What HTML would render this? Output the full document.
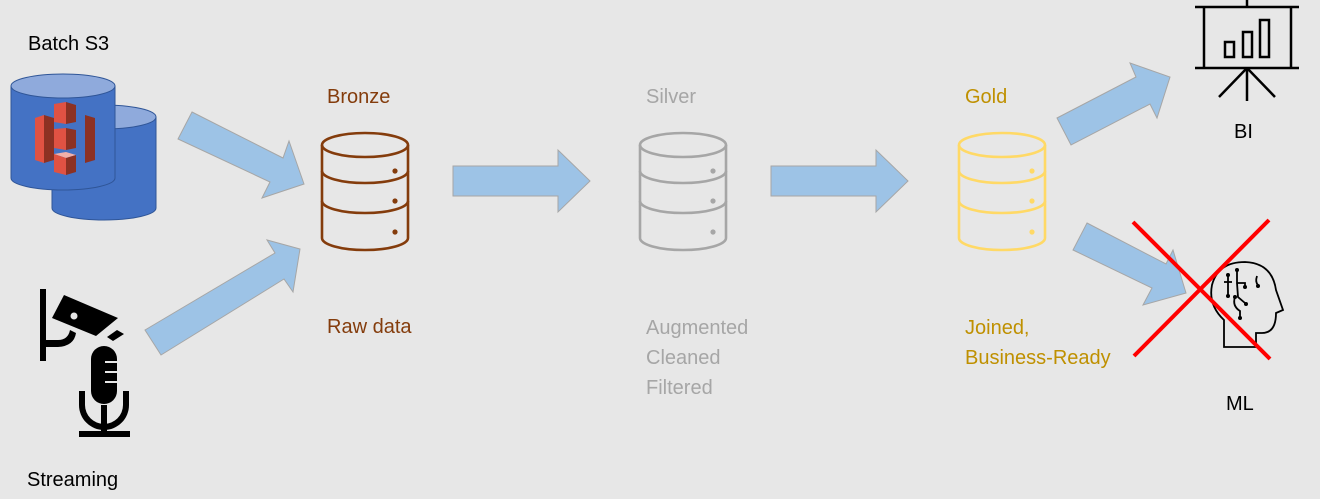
<!DOCTYPE html>
<html><head><style>
html,body{margin:0;padding:0;background:#e7e7e7;}
svg{display:block;font-family:"Liberation Sans",sans-serif;}
</style></head><body>
<svg width="1320" height="499" viewBox="0 0 1320 499" xmlns="http://www.w3.org/2000/svg">
<rect width="1320" height="499" fill="#e7e7e7"/>
<g font-size="20">
<text x="28" y="50" fill="#000">Batch S3</text>
<text x="27" y="486" fill="#000">Streaming</text>
<text x="327" y="103" fill="#843c0c">Bronze</text>
<text x="327" y="333" fill="#843c0c">Raw data</text>
<text x="646" y="103" fill="#a6a6a6">Silver</text>
<text x="646" y="334" fill="#a6a6a6">Augmented</text>
<text x="646" y="364" fill="#a6a6a6">Cleaned</text>
<text x="646" y="394" fill="#a6a6a6">Filtered</text>
<text x="965" y="103" fill="#bf9000">Gold</text>
<text x="965" y="334" fill="#bf9000">Joined,</text>
<text x="965" y="364" fill="#bf9000">Business-Ready</text>
<text x="1234" y="138" fill="#000">BI</text>
<text x="1226" y="410" fill="#000">ML</text>
</g>
<!-- S3 cylinders -->
<g stroke="#2f5597" stroke-width="1">
<path d="M52,117 V208 A52,12 0 0 0 156,208 V117 Z" fill="#4472c4"/>
<ellipse cx="104" cy="117" rx="52" ry="12" fill="#8faadc"/>
<path d="M11,86 V178 A52,12 0 0 0 115,178 V86 Z" fill="#4472c4"/>
<ellipse cx="63" cy="86" rx="52" ry="12" fill="#8faadc"/>
</g>
<g>
<polygon points="35,118 44,115 44,163 35,160" fill="#e05243"/>
<polygon points="44,115 54,118 54,160 44,163" fill="#8c3123"/>
<polygon points="95,118 85,115 85,163 95,160" fill="#8c3123"/>
<polygon points="54,104 66,102 66,124 54,122" fill="#e05243"/>
<polygon points="66,102 76,105 76,122 66,124" fill="#8c3123"/>
<polygon points="54,129 66,128 66,150 54,148" fill="#e05243"/>
<polygon points="66,128 76,130 76,148 66,150" fill="#8c3123"/>
<polygon points="54,154 66,152 76,155 66,158" fill="#f2b0a9"/>
<polygon points="54,154 66,158 66,175 54,172" fill="#e05243"/>
<polygon points="66,158 76,155 76,172 66,175" fill="#8c3123"/>
</g>
<!-- camera & mic -->
<g fill="#000">
<rect x="40" y="289" width="6" height="72"/>
<polygon points="64,295 118,318 96,336 52,318"/>
<polygon points="107,337 117,330 124,334 113,341"/>
<path d="M46,340 H58 Q68,340 70,330 L76,333 Q74,346 58,347 H46 Z"/>
<rect x="79" y="431" width="51" height="6"/>
<rect x="101" y="405" width="6" height="28"/>
<path d="M79,391 V405 A25,25 0 0 0 129,405 V391 H123 V405 A19,19 0 0 1 85,405 V391 Z"/>
<rect x="91" y="346" width="26" height="58" rx="13"/>
</g>
<circle cx="74" cy="316" r="3.5" fill="#e7e7e7"/>
<g stroke="#e7e7e7" stroke-width="2"><line x1="105" y1="362" x2="117" y2="362"/><line x1="105" y1="372" x2="117" y2="372"/><line x1="105" y1="382" x2="117" y2="382"/></g>
<!-- arrows -->
<g fill="#9dc3e6" stroke="#a6a6a6" stroke-width="1">
<polygon points="192,112 283,158 289,141 304,184 262,198 270,182 178,139"/>
<polygon points="145,330 275,253 267,240 300,249 293,292 284,279 161,355"/>
<polygon points="453,166 558,166 558,150 590,181 558,212 558,196 453,196"/>
<polygon points="771,166 876,166 876,150 908,181 876,212 876,196 771,196"/>
<polygon points="1057,118 1136,77 1130,63 1170,77 1157,118 1150,104 1071,145"/>
<polygon points="1087,223 1166,264 1173,250 1186,293 1143,305 1152,288 1073,250"/>
</g>
<!-- DB icons -->
<defs>
<g id="db" fill="none" stroke-width="2.6">
<ellipse cx="43" cy="25" rx="43" ry="12"/>
<path d="M0,25 V118 A43,12 0 0 0 86,118 V25"/>
<path d="M0,51 A43,12 0 0 0 86,51"/>
<path d="M0,81 A43,12 0 0 0 86,81"/>
</g>
</defs>
<g transform="translate(322,120)" stroke="#843c0c" fill="#843c0c"><use href="#db"/><circle cx="73" cy="51" r="2.6" stroke="none"/><circle cx="73" cy="81" r="2.6" stroke="none"/><circle cx="73" cy="112" r="2.6" stroke="none"/></g>
<g transform="translate(640,120)" stroke="#a6a6a6" fill="#a6a6a6"><use href="#db"/><circle cx="73" cy="51" r="2.6" stroke="none"/><circle cx="73" cy="81" r="2.6" stroke="none"/><circle cx="73" cy="112" r="2.6" stroke="none"/></g>
<g transform="translate(959,120)" stroke="#ffd966" fill="#ffd966"><use href="#db"/><circle cx="73" cy="51" r="2.6" stroke="none"/><circle cx="73" cy="81" r="2.6" stroke="none"/><circle cx="73" cy="112" r="2.6" stroke="none"/></g>
<!-- BI icon -->
<g stroke="#000" stroke-width="2.5" fill="none">
<line x1="1247" y1="0" x2="1247" y2="7"/>
<line x1="1195" y1="7" x2="1299" y2="7"/>
<line x1="1195" y1="68" x2="1299" y2="68"/>
<line x1="1204" y1="7" x2="1204" y2="68"/>
<line x1="1291" y1="7" x2="1291" y2="68"/>
<line x1="1247" y1="68" x2="1219" y2="97"/>
<line x1="1247" y1="68" x2="1275" y2="97"/>
<line x1="1247" y1="68" x2="1247" y2="101"/>
<rect x="1225" y="42" width="9" height="15"/>
<rect x="1243" y="32" width="9" height="25"/>
<rect x="1260" y="20" width="9" height="37"/>
</g>
<!-- head icon -->
<g stroke="#000" stroke-width="1.8" fill="none">
<path d="M1224,347 V320 Q1208,305 1212,285 Q1218,262 1245,262 Q1272,263 1276,290 L1283,310 L1276,313 Q1276,333 1262,333 H1256 V347 Z"/>
<path d="M1224,282 H1232 M1228,275 V282 L1228,295 M1237,270 V283 H1245 V286 M1237,283 L1238,297 L1245,303 M1235,297 Q1232,306 1240,311 V318 M1257,276 Q1255,282 1258,285"/>
</g>
<g fill="#000"><circle cx="1228" cy="275" r="2"/><circle cx="1237" cy="270" r="2"/><circle cx="1245" cy="287" r="2"/><circle cx="1228" cy="296" r="2"/><circle cx="1246" cy="304" r="2"/><circle cx="1235" cy="297" r="2"/><circle cx="1240" cy="318" r="2"/><circle cx="1258" cy="286" r="2"/></g>
<!-- red X -->
<g stroke="#ff0000" stroke-width="4">
<line x1="1133" y1="222" x2="1270" y2="359"/>
<line x1="1269" y1="220" x2="1134" y2="356"/>
</g>
</svg>
</body></html>
